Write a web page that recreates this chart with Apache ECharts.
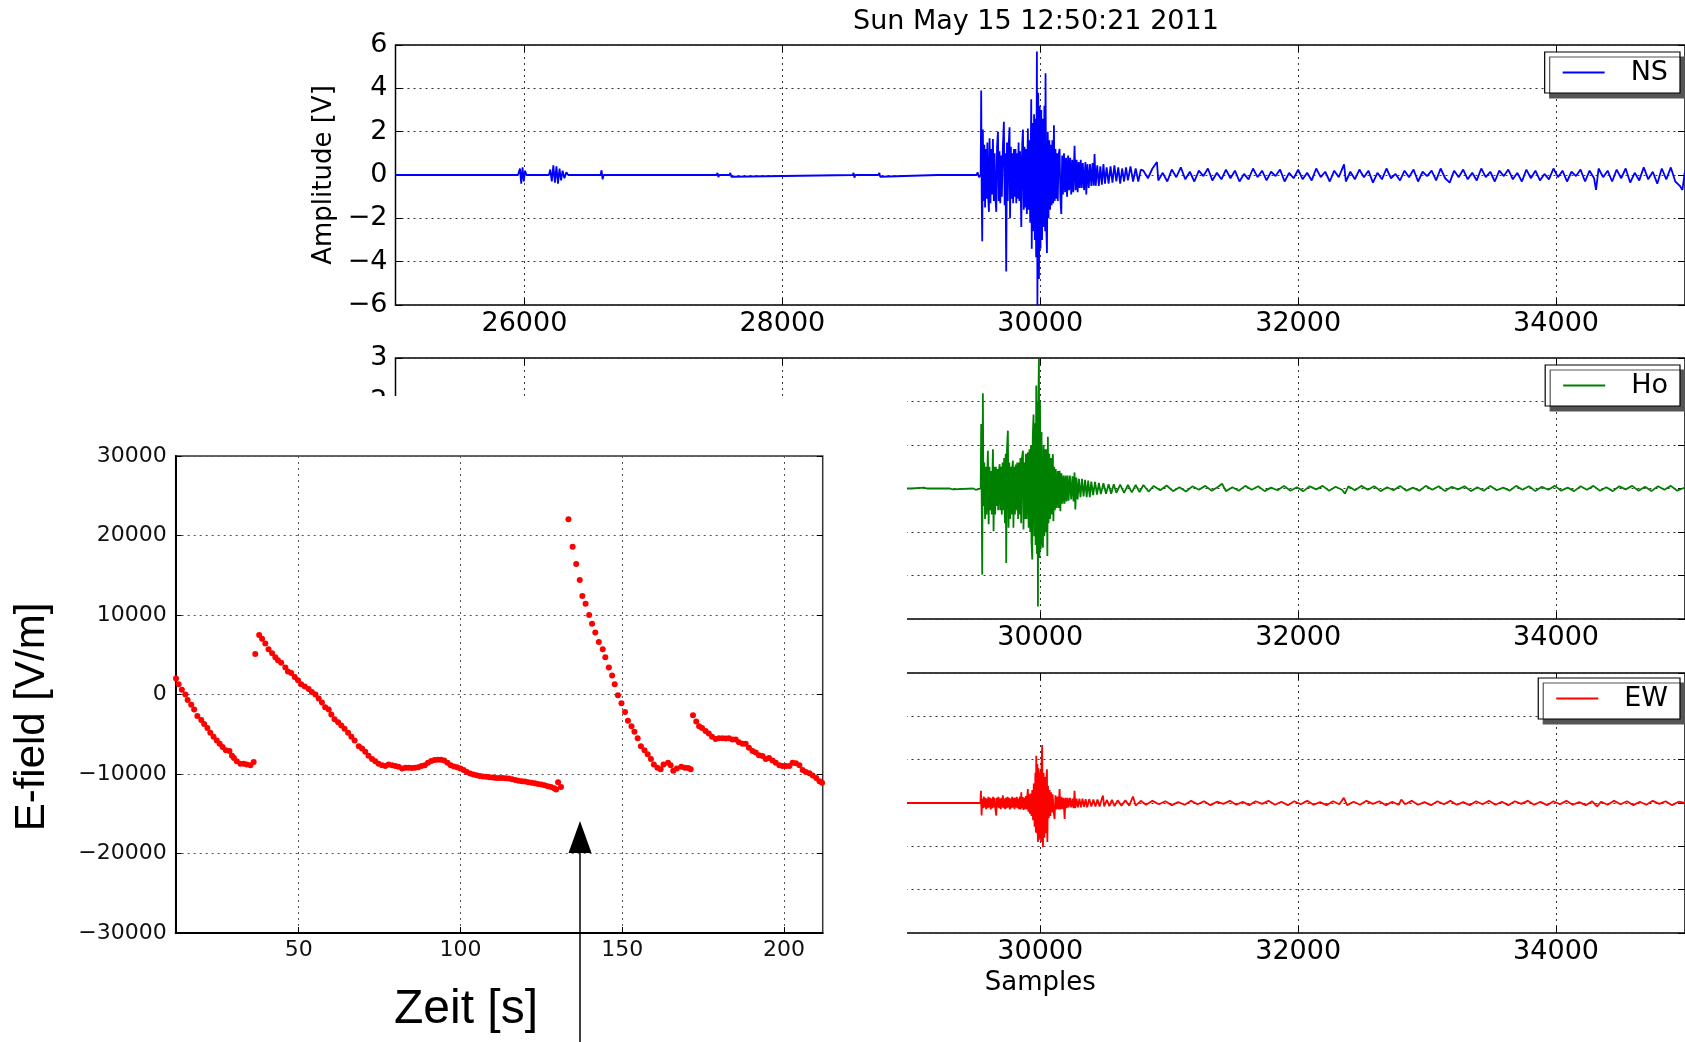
<!DOCTYPE html>
<html><head><meta charset="utf-8">
<script src="https://cdn.jsdelivr.net/npm/echarts@6/dist/echarts.min.js"></script>
<style>html,body{margin:0;padding:0;background:#fff}#c{width:1685px;height:1042px}</style>
</head><body><div id="c"></div>
<script>
// ---------------- data ----------------
const titleText = 'Sun May 15 12:50:21 2011';
const sampleTicks = [26000, 28000, 30000, 32000, 34000];
const timeTicks = [50, 100, 150, 200];

// NS component [sample, amplitude V]
const nsTrace = [
[25000,0],[25950,0],[25965,0.3],[25975,-0.4],[25985,0.35],[25995,-0.3],[26005,0.2],[26015,0],
[26190,0],[26200,0.25],[26212,-0.3],[26224,0.45],[26236,-0.35],[26248,0.4],[26260,-0.4],[26272,0.3],[26284,-0.25],[26296,0.2],[26310,-0.15],[26325,0.12],[26340,0],
[26590,0],[26598,0.22],[26606,-0.2],[26614,0],[27490,0],[27497,0.1],[27504,-0.1],[27511,0],
[27590,0],[27597,0.1],[27604,-0.08],[27611,0],[28545,0],[28552,0.1],[28559,-0.12],[28566,0],
[28745,0],[28752,0.1],[28759,-0.08],[28766,0],[29200,0],[29207,0.06],[29214,-0.05],[29221,0],
[29450,0],[29457,0.07],[29464,-0.06],[29471,0],[29505,0],[29515,0.12],[29525,-0.1],[29538,0],
[29542,3.9],[29546,-1.0],[29550,-3.06],[29555,2.1],[29560,-1.2],[29566,1.4],[29572,-1.5],[29578,1.2],[29584,-1.1],[29590,1.5],[29596,-1.0],[29602,-1.7],[29607,1.7],[29614,-1.3],[29620,1.2],[29626,-0.9],[29633,1.66],[29640,-1.2],[29646,1.0],[29652,-1.0],[29659,-1.7],[29665,1.3],[29672,2.0],[29678,-1.2],[29684,1.1],[29690,-1.3],[29696,0.9],[29702,-1.0],[29710,1.3],[29718,2.46],[29724,-1.4],[29730,1.0],[29736,-4.45],[29742,1.5],[29748,-1.2],[29755,1.4],[29762,2.2],[29766,-2.0],[29772,1.3],[29778,-1.1],[29784,1.0],[29790,-1.3],[29796,1.2],[29802,-1.0],[29808,1.2],[29814,-1.3],[29820,1.0],[29826,-1.1],[29832,1.5],[29838,-1.2],[29844,1.1],[29853,-2.4],[29860,1.4],[29866,2.1],[29872,-1.6],[29878,1.3],[29884,-1.5],[29890,1.2],[29896,-1.8],[29904,2.15],[29910,-1.6],[29916,1.6],[29922,-2.2],[29930,3.5],[29934,-3.4],[29940,2.4],[29946,-2.6],[29952,2.8],[29958,-3.0],[29964,2.6],[29968,-3.8],[29974,5.7],[29978,-6.0],[29984,3.8],[29990,-4.8],[29996,3.2],[30002,-3.4],[30008,3.0],[30014,-3.0],[30020,2.6],[30026,-2.4],[30032,3.2],[30038,-2.6],[30041,4.7],[30046,-2.2],[30052,-3.6],[30058,2.0],[30064,-2.0],[30070,1.6],[30076,-1.6],[30082,1.4],[30088,-1.4],[30094,1.6],[30100,-1.3],[30106,2.3],[30112,-1.2],[30118,1.2],[30124,-1.1],[30130,1.0],[30136,-1.2],[30142,0.9],[30150,1.2],[30156,-1.0],[30163,-1.8],[30170,0.9],[30176,-0.9],[30184,1.0],[30192,-0.8],[30200,0.8],[30208,-1.0],[30216,0.9],[30224,-0.7],[30232,0.8],[30240,-0.9],[30248,0.7],[30256,-0.8],[30266,1.35],[30274,-0.7],[30282,0.7],[30290,-0.8],[30298,0.6],[30306,-0.6],[30314,0.7],[30322,-0.6],[30330,0.55],[30340,-0.7],[30350,0.6],[30357,-0.9],[30366,0.5],[30376,-0.6],[30386,0.5],[30396,-0.5],[30406,0.55],[30414,-0.5],[30421,0.97],[30430,-0.5],[30442,0.45],[30454,-0.5],[30466,0.4],[30478,-0.45],[30490,0.5],[30502,-0.4],[30515,0.35],[30530,-0.4],[30545,0.4],[30560,-0.35],[30575,0.45],[30590,-0.3],[30605,0.35],[30620,-0.4],[30635,0.3],[30650,-0.3],[30665,0.35],[30680,-0.25],[30700,0.4],[30720,-0.3],[30740,0.3],[30760,-0.3],[30780,0.25],
[30800,0.2],[30835,-0.15],[30870,0.3],[30905,0.6],[30915,-0.25],[30950,0.1],[30985,-0.3],[31020,0.25],[31055,-0.1],[31090,0.35],[31125,-0.2],[31160,0.15],[31195,-0.3],[31230,0.2],[31265,-0.05],[31300,0.3],[31335,-0.25],[31370,0.1],[31405,-0.2],[31440,0.25],[31475,-0.15],[31510,0.2],[31545,-0.3],[31580,0.05],[31615,-0.2],[31650,0.3],[31685,-0.1],[31720,0.2],[31755,-0.25],[31790,0.15],[31825,-0.05],[31860,0.25],[31895,-0.3],[31930,0.1],[31965,-0.15],[32000,0.25],[32035,-0.2],[32070,0.1],[32105,-0.25],[32140,0.3],[32175,-0.1],[32210,0.15],[32245,-0.3],[32280,0.2],[32315,-0.1],[32356,0.49],[32370,-0.3],[32405,0.15],[32440,-0.2],[32475,0.25],[32510,-0.1],[32545,0.2],[32580,-0.35],[32615,0.1],[32650,-0.2],[32685,0.3],[32720,-0.15],[32755,0.05],[32790,-0.25],[32825,0.2],[32860,-0.1],[32895,0.25],[32930,-0.3],[32965,0.15],[33000,-0.05],[33035,0.2],[33070,-0.25],[33105,0.3],[33140,-0.15],[33175,-0.35],[33210,0.2],[33245,-0.1],[33280,0.25],[33315,-0.2],[33350,0.1],[33385,-0.25],[33420,0.3],[33455,-0.1],[33490,0.15],[33525,-0.3],[33560,0.2],[33595,-0.05],[33630,0.25],[33665,-0.2],[33700,0.1],[33735,-0.3],[33770,0.25],[33805,-0.15],[33840,0.2],[33875,-0.25],[33910,0.05],[33945,-0.2],[33980,0.3],[34015,-0.1],[34050,0.2],[34085,-0.3],[34120,0.15],[34155,-0.05],[34190,0.25],[34225,-0.3],[34260,0.2],[34295,-0.15],[34310,-0.69],[34330,0.3],[34365,-0.1],[34400,0.2],[34435,-0.3],[34470,0.25],[34505,-0.15],[34540,0.3],[34575,-0.35],[34610,0.1],[34645,-0.25],[34680,0.35],[34715,-0.2],[34750,0.15],[34785,-0.4],[34820,0.3],[34855,-0.2],[34890,0.35],[34925,-0.3],[34960,-0.5],[34980,-0.69],[35000,0.2]
];

// Ho component [sample, amplitude V]
const hoTrace = [
[25000,0],[29000,0],[29100,0.02],[29110,-0.02],[29120,0],[29300,0],[29310,0.03],[29320,-0.02],[29330,0],[29480,0],[29490,0.04],[29500,-0.03],[29510,0],[29538,0],
[29542,1.48],[29546,-0.3],[29550,-1.98],[29555,2.19],[29560,-0.4],[29566,0.6],[29572,-0.7],[29578,0.5],[29584,-0.6],[29590,0.4],[29594,0.87],[29600,-0.82],[29606,0.5],[29612,-0.5],[29618,0.4],[29624,-0.6],[29633,0.9],[29638,-0.98],[29644,0.5],[29650,-0.6],[29656,0.5],[29662,-0.4],[29668,0.45],[29674,-0.5],[29680,0.4],[29685,0.56],[29690,-0.5],[29696,0.5],[29702,-0.6],[29708,0.6],[29714,-0.5],[29720,0.7],[29726,-0.8],[29732,0.8],[29736,-1.71],[29742,0.9],[29749,1.33],[29754,-0.9],[29760,0.6],[29766,-0.7],[29772,0.5],[29778,-0.6],[29784,0.5],[29788,0.64],[29792,-0.9],[29798,0.5],[29804,-0.6],[29810,0.55],[29816,-0.5],[29822,0.6],[29828,-0.7],[29834,0.6],[29840,-0.6],[29846,0.7],[29852,-0.8],[29858,0.7],[29866,0.87],[29870,-0.94],[29876,0.6],[29882,-0.7],[29888,0.8],[29894,-0.7],[29900,0.7],[29904,0.83],[29910,-0.9],[29916,0.9],[29922,-1.0],[29928,1.0],[29932,-1.2],[29938,-1.63],[29942,1.2],[29948,1.7],[29954,-1.1],[29960,1.5],[29964,-1.3],[29969,2.37],[29974,-1.5],[29978,2.0],[29982,-2.71],[29986,2.2],[29990,2.98],[29994,-1.6],[29998,2.0],[30004,-1.4],[30010,1.3],[30016,-1.2],[30021,-1.36],[30026,1.0],[30032,-1.1],[30038,0.9],[30044,-1.0],[30050,0.9],[30055,-1.55],[30059,1.19],[30064,-0.8],[30070,0.8],[30076,-0.7],[30082,0.7],[30088,-0.6],[30094,0.6],[30098,0.79],[30102,-0.75],[30108,0.5],[30114,-0.5],[30120,0.45],[30128,-0.45],[30136,0.4],[30144,-0.45],[30150,0.41],[30156,-0.52],[30164,0.35],[30172,-0.35],[30180,0.3],[30188,-0.35],[30196,0.3],[30204,-0.3],[30212,0.3],[30220,-0.28],[30230,0.3],[30240,-0.25],[30250,0.28],[30258,-0.3],[30266,0.37],[30272,-0.48],[30280,0.25],[30290,-0.25],[30300,0.22],[30312,-0.2],[30324,0.22],[30336,-0.18],[30348,0.2],[30360,-0.2],[30372,0.18],[30384,-0.2],[30396,0.16],[30410,-0.15],[30425,0.15],[30440,-0.14],[30455,0.13],[30470,-0.13],[30490,0.12],[30510,-0.12],[30530,0.1],[30550,-0.12],[30570,0.1],[30590,-0.1],[30620,0.09],[30650,-0.1],[30680,0.08],[30710,-0.09],[30740,0.08],[30770,-0.08],[30800,0.08],[30840,-0.07],
[30880,0.06],[30930,-0.04],[30980,0.07],[31030,-0.06],[31080,0.03],[31130,-0.07],[31180,0.05],[31230,-0.03],[31280,0.06],[31330,-0.05],[31380,0.04],[31410,0.11],[31440,-0.06],[31490,0.03],[31540,-0.05],[31590,0.06],[31640,-0.03],[31690,0.05],[31740,-0.06],[31790,0.02],[31840,-0.04],[31890,0.06],[31940,-0.05],[31990,0.03],[32040,-0.06],[32090,0.05],[32140,-0.02],[32190,0.06],[32240,-0.05],[32290,0.04],[32340,-0.03],[32363,-0.12],[32390,0.05],[32440,-0.04],[32490,0.06],[32540,-0.03],[32590,0.05],[32640,-0.06],[32690,0.03],[32740,-0.04],[32790,0.06],[32840,-0.05],[32890,0.02],[32940,-0.05],[32990,0.06],[33040,-0.03],[33090,0.05],[33140,-0.06],[33190,0.04],[33240,-0.02],[33290,0.05],[33340,-0.06],[33390,0.03],[33440,-0.05],[33490,0.06],[33540,-0.04],[33590,0.02],[33640,-0.05],[33690,0.06],[33740,-0.03],[33790,0.05],[33840,-0.06],[33890,0.04],[33940,-0.03],[33990,0.06],[34040,-0.05],[34090,0.02],[34140,-0.06],[34190,0.05],[34240,-0.03],[34290,0.06],[34340,-0.05],[34390,0.03],[34440,-0.06],[34490,0.05],[34540,-0.02],[34590,0.06],[34640,-0.05],[34690,0.04],[34740,-0.06],[34790,0.05],[34840,-0.03],[34890,0.06],[34940,-0.05],[35000,0.02]
];

// EW component [sample, amplitude V]
const ewTrace = [
[25000,0],[29536,0],[29540,0.28],[29545,-0.29],[29550,0.1],[29556,-0.12],[29562,0.15],[29568,-0.1],[29574,0.12],[29580,-0.14],[29586,0.1],[29592,-0.12],[29598,0.14],[29604,-0.1],[29610,0.12],[29616,-0.15],[29622,0.1],[29628,-0.12],[29634,0.14],[29640,-0.1],[29646,0.12],[29652,-0.14],[29659,-0.29],[29664,0.12],[29670,-0.1],[29676,0.14],[29682,-0.12],[29688,0.1],[29694,-0.14],[29700,0.12],[29706,-0.1],[29710,0.18],[29716,-0.12],[29722,0.1],[29728,-0.14],[29734,0.12],[29740,-0.12],[29746,0.14],[29752,-0.1],[29758,0.12],[29764,-0.15],[29770,0.1],[29776,-0.12],[29782,0.14],[29788,-0.1],[29794,0.12],[29800,-0.14],[29806,0.12],[29812,-0.1],[29818,0.14],[29824,-0.12],[29830,0.1],[29836,-0.14],[29842,0.15],[29848,-0.15],[29853,0.25],[29858,-0.12],[29864,0.14],[29870,-0.16],[29876,0.12],[29882,-0.14],[29888,0.16],[29894,-0.15],[29900,0.18],[29904,0.32],[29908,-0.2],[29914,0.2],[29920,-0.25],[29926,0.22],[29932,-0.3],[29938,0.3],[29944,-0.4],[29950,0.45],[29956,-0.55],[29962,0.7],[29966,-0.68],[29969,1.09],[29974,-0.7],[29978,0.9],[29982,-0.9],[29986,0.8],[29990,-0.85],[29994,0.7],[29998,-0.8],[30002,0.75],[30006,-0.9],[30010,0.9],[30015,1.34],[30018,-0.8],[30021,-1.02],[30026,0.7],[30032,-0.8],[30038,0.6],[30044,-0.7],[30048,0.6],[30052,0.78],[30055,-0.9],[30060,0.4],[30066,-0.35],[30072,0.3],[30078,-0.3],[30084,0.25],[30090,-0.22],[30096,0.2],[30104,-0.2],[30111,-0.37],[30118,0.18],[30126,-0.15],[30134,0.15],[30142,-0.15],[30150,0.32],[30156,-0.15],[30164,0.14],[30172,-0.14],[30180,0.12],[30189,-0.37],[30196,0.12],[30204,-0.12],[30212,0.12],[30220,-0.1],[30230,0.12],[30240,-0.1],[30250,0.1],[30258,-0.12],[30266,0.28],[30272,-0.12],[30282,0.1],[30292,-0.1],[30304,0.1],[30316,-0.1],[30328,0.1],[30340,-0.09],[30352,0.09],[30364,-0.1],[30380,0.09],[30396,-0.08],[30412,0.08],[30428,-0.08],[30444,0.08],[30460,-0.08],[30476,0.08],[30486,0.17],[30496,-0.08],[30516,0.07],[30536,-0.07],[30556,0.07],[30576,-0.07],[30600,0.06],[30630,-0.06],[30660,0.06],[30690,-0.06],[30719,0.15],[30740,-0.06],[30780,0.05],
[30820,-0.04],[30870,0.05],[30920,-0.03],[30970,0.04],[31020,-0.05],[31070,0.02],[31120,-0.04],[31170,0.05],[31220,-0.03],[31270,0.04],[31320,-0.05],[31370,0.03],[31420,-0.02],[31470,0.05],[31520,-0.04],[31570,0.03],[31620,-0.05],[31670,0.04],[31720,-0.02],[31770,0.05],[31820,-0.04],[31870,0.03],[31920,-0.05],[31970,0.04],[32020,-0.03],[32070,0.05],[32120,-0.04],[32170,0.02],[32220,-0.05],[32270,0.04],[32320,-0.03],[32354,0.12],[32380,-0.05],[32430,0.03],[32480,-0.04],[32530,0.05],[32580,-0.02],[32630,0.04],[32680,-0.05],[32730,0.03],[32780,-0.04],[32800,0.08],[32830,-0.03],[32880,0.05],[32930,-0.04],[32980,0.02],[33030,-0.05],[33080,0.04],[33130,-0.03],[33180,0.05],[33230,-0.04],[33280,0.02],[33330,-0.05],[33380,0.04],[33430,-0.03],[33480,0.05],[33530,-0.04],[33580,0.03],[33630,-0.05],[33680,0.04],[33730,-0.02],[33780,0.05],[33830,-0.04],[33880,0.03],[33930,-0.05],[33980,0.04],[34030,-0.03],[34080,0.05],[34130,-0.04],[34180,0.02],[34230,-0.05],[34280,0.04],[34318,-0.08],[34350,0.03],[34400,-0.04],[34450,0.05],[34500,-0.03],[34550,0.04],[34600,-0.05],[34650,0.03],[34700,-0.04],[34750,0.05],[34800,-0.02],[34850,0.04],[34900,-0.05],[34950,0.03],[35000,0]
];

// Inset: E-field vs time
const efTime = [
12.1,12.9,13.9,15.0,15.7,16.8,17.7,18.7,19.9,20.8,21.8,22.7,23.7,24.7,25.6,26.5,27.5,28.6,29.4,30.0,30.9,32.0,33.0,34.0,35.1,36.1,
36.6,
37.8,38.7,39.7,40.7,41.8,42.8,43.6,44.6,45.9,46.7,47.7,48.8,49.8,50.8,51.9,53.1,54.1,55.2,56.2,57.2,58.2,59.3,60.1,61.1,62.2,63.2,64.2,65.3,66.3,67.3,68.6,69.6,70.6,71.6,72.7,73.7,74.7,75.8,76.8,77.8,78.9,79.9,80.9,82.0,
83,84,85,86,87,88,89,90,91,92,93,94,95,96,97,98,99,100,101,102,103,104,105,106,107,108,109,110,111,112,113,114,115,116,117,118,119,120,121,122,123,124,125,126,127,128,129,129.6,130.2,131.1,
133.4,134.7,135.8,136.9,137.7,138.7,139.8,140.7,141.7,142.8,144.0,144.8,145.9,146.9,147.7,148.7,149.8,150.9,151.8,152.9,153.8,154.8,155.8,156.9,157.9,158.9,159.8,160.9,161.9,162.8,164.2,165.0,165.8,166.9,168.3,169.4,170.4,171.2,
171.9,172.9,173.8,174.7,175.8,176.8,177.8,178.9,179.9,181.0,182.0,183.0,184.1,185.1,186.1,187.2,188.2,189.2,190.3,191.3,192.3,193.4,194.4,195.4,196.5,197.5,198.6,199.6,200.6,201.7,202.7,203.7,204.8,205.8,206.8,207.9,208.9,210.0,211.0,211.8
];
const efField = [
2000,1300,600,0,-700,-1300,-1900,-2700,-3200,-3700,-4200,-4800,-5300,-5800,-6200,-6600,-7000,-7100,-7700,-8000,-8400,-8700,-8700,-8800,-8900,-8500,
5100,
7500,7000,6400,5700,5200,4700,4300,4000,3400,2900,2700,2200,1800,1300,1000,700,300,0,-500,-1000,-1600,-1900,-2500,-3100,-3500,-3900,-4300,-4800,-5300,-5800,-6500,-6800,-7200,-7700,-8100,-8400,-8700,-8900,-9000,-8800,-8900,-9000,-9100,-9300,
-9200,-9200,-9250,-9200,-9150,-9000,-8900,-8600,-8350,-8250,-8200,-8200,-8300,-8600,-8900,-9050,-9150,-9300,-9500,-9750,-9950,-10050,-10150,-10250,-10300,-10350,-10400,-10450,-10500,-10500,-10500,-10520,-10560,-10650,-10750,-10850,-10900,-10950,-11050,-11100,-11150,-11250,-11330,-11400,-11550,-11650,-11800,-11950,-11050,-11650,
22050,18600,16400,14400,12400,11400,10000,8900,7800,6600,5700,4700,3400,2400,1300,-100,-1100,-2200,-3300,-4000,-4700,-5500,-6500,-7000,-7500,-8100,-8800,-9200,-9400,-8800,-8600,-8900,-9600,-9300,-9100,-9200,-9250,-9400,
-2600,-3400,-4000,-4200,-4600,-4900,-5300,-5600,-5500,-5500,-5550,-5500,-5650,-5650,-6000,-6200,-6200,-6700,-7100,-7300,-7650,-7750,-8100,-8000,-8300,-8600,-8900,-9000,-9000,-9000,-8600,-8650,-8900,-9500,-9750,-9900,-10200,-10500,-10900,-11100
];

// ---------------- chart ----------------
const FONT = 'DejaVu Sans';
const minus = v => String(v).replace('-', '\u2212');
const plain = v => String(v);
const dotted = {show: true, lineStyle: {color: '#333', width: 1, type: [2, 4]}};
const L = 395.5, W = 1289.5;
const panels = [{top: 45, h: 260, min: -6, max: 6, step: 2}, {top: 358, h: 261, min: -3, max: 3, step: 1}, {top: 673, h: 260, min: -3, max: 3, step: 1}];

const grid = panels.map(p => ({left: L, top: p.top, width: W, height: p.h, show: true, borderColor: '#000', borderWidth: 1.5, backgroundColor: 'transparent'}));
grid.push({left: 175.7, top: 456, width: 647, height: 477, show: true, borderColor: '#333', borderWidth: 1.5, backgroundColor: 'transparent', z: 20});

const xAxis = [], yAxis = [];
panels.forEach((p, i) => {
  xAxis.push({type: 'value', gridIndex: i, min: 25000, max: 35000, position: 'bottom',
    axisLine: {show: false, onZero: false},
    axisTick: {show: true, inside: true, length: 7, customValues: sampleTicks, lineStyle: {color: '#000'}},
    axisLabel: {show: true, customValues: sampleTicks, formatter: plain, fontFamily: FONT, fontSize: 27, color: '#000', margin: 5},
    splitLine: dotted,
    name: i === 2 ? 'Samples' : '', nameLocation: 'middle', nameGap: 37,
    nameTextStyle: {fontFamily: FONT, fontSize: 26, color: '#000'}});
  yAxis.push({type: 'value', gridIndex: i, min: p.min, max: p.max, interval: p.step,
    axisLine: {show: false, onZero: false},
    axisTick: {show: true, inside: true, length: 7, lineStyle: {color: '#000'}},
    axisLabel: {formatter: minus, fontFamily: FONT, fontSize: 27, color: '#000', margin: 8},
    splitLine: dotted,
    name: i === 0 ? 'Amplitude [V]' : '', nameLocation: 'middle', nameGap: 53,
    nameTextStyle: {fontFamily: FONT, fontSize: 26, color: '#000'}});
});
// inset axes
xAxis.push({type: 'value', gridIndex: 3, min: 12, max: 212, z: 20,
  axisLine: {show: true, onZero: false, lineStyle: {color: '#000', width: 2}},
  axisTick: {show: true, inside: true, length: 6, customValues: timeTicks, lineStyle: {color: '#000'}},
  axisLabel: {customValues: timeTicks, formatter: plain, fontFamily: FONT, fontSize: 22, color: '#111', margin: 6},
  splitLine: {show: true, lineStyle: {color: '#555', width: 1, type: [2, 4]}}});
yAxis.push({type: 'value', gridIndex: 3, min: -30000, max: 30000, interval: 10000, z: 20,
  axisLine: {show: true, onZero: false, lineStyle: {color: '#000', width: 2}},
  axisTick: {show: true, inside: true, length: 6, lineStyle: {color: '#000'}},
  axisLabel: {formatter: minus, fontFamily: FONT, fontSize: 22, color: '#111', margin: 9},
  splitLine: {show: true, lineStyle: {color: '#555', width: 1, type: [2, 4]}}});
// mirrored tick marks on top / right
[0, 1, 2].forEach(i => {
  xAxis.push({type: 'value', gridIndex: i, min: 25000, max: 35000, position: 'top', axisLine: {show: false, onZero: false},
    axisTick: {show: true, inside: true, length: 7, customValues: sampleTicks, lineStyle: {color: '#000'}},
    axisLabel: {show: false, customValues: sampleTicks}, splitLine: {show: false}});
  yAxis.push({type: 'value', gridIndex: i, min: panels[i].min, max: panels[i].max, interval: panels[i].step, position: 'right',
    axisLine: {show: false, onZero: false}, axisTick: {show: true, inside: true, length: 7, lineStyle: {color: '#000'}},
    axisLabel: {show: false}, splitLine: {show: false}});
});
yAxis.push({type: 'value', gridIndex: 3, min: -30000, max: 30000, interval: 10000, position: 'right', z: 20,
  axisLine: {show: false, onZero: false}, axisTick: {show: true, inside: true, length: 6, lineStyle: {color: '#000'}},
  axisLabel: {show: false}, splitLine: {show: false}});

const traceSeries = (name, idx, data, color) => ({type: 'line', name, xAxisIndex: idx, yAxisIndex: idx, data,
  showSymbol: false, symbol: 'none', sampling: null, lineStyle: {color, width: 1.8}, itemStyle: {color}, z: 2, animation: false});

const legendBox = (name, top) => ({data: [name], right: 5, top, padding: [7, 12, 7, 18], itemWidth: 42, itemHeight: 2, icon: 'rect',
  backgroundColor: '#fff', borderColor: '#000', borderWidth: 1.2, borderRadius: 0,
  shadowColor: '#555', shadowOffsetX: 5, shadowOffsetY: 5, shadowBlur: 0, selectedMode: false,
  textStyle: {fontFamily: FONT, fontSize: 27, color: '#000', padding: [0, 0, 0, 21]}});

const option = {
  backgroundColor: '#fff',
  animation: false,
  title: {text: titleText, left: 853, top: 8, padding: 0, textStyle: {fontFamily: FONT, fontSize: 27, fontWeight: 'normal', color: '#000'}},
  legend: [legendBox('NS', 52), legendBox('Ho', 365), legendBox('EW', 678)],
  grid, xAxis, yAxis,
  series: [
    traceSeries('NS', 0, nsTrace, '#0000ff'),
    traceSeries('Ho', 1, hoTrace, '#008000'),
    traceSeries('EW', 2, ewTrace, '#ff0000'),
    {type: 'scatter', name: 'E-field', xAxisIndex: 3, yAxisIndex: 3, z: 21,
      data: efTime.map((t, i) => [t, efField[i]]), symbol: 'circle', symbolSize: 6,
      itemStyle: {color: '#ff0000', opacity: 1}, animation: false}
  ],
  graphic: {elements: [
    {type: 'rect', z: 10, silent: true, shape: {x: 0, y: 396, width: 907, height: 646}, style: {fill: '#fff'}},
    {type: 'text', z: 30, x: 32, y: 717, rotation: Math.PI / 2,
      style: {text: 'E-field [V/m]', fontSize: 42, fontFamily: 'Liberation Sans', fill: '#000', align: 'center', verticalAlign: 'middle', textAlign: 'center', textVerticalAlign: 'middle'}},
    {type: 'text', z: 30, x: 466, y: 1010,
      style: {text: 'Zeit [s]', fontSize: 48, fontFamily: 'Liberation Sans', fill: '#000', align: 'center', verticalAlign: 'middle', textAlign: 'center', textVerticalAlign: 'middle'}},
    {type: 'line', z: 30, shape: {x1: 580, y1: 850, x2: 580, y2: 1042}, style: {stroke: '#000', lineWidth: 1.5}},
    {type: 'polygon', z: 30, shape: {points: [[580, 821], [568.5, 853], [591.5, 853]]}, style: {fill: '#000'}}
  ]}
};

const chart = echarts.init(document.getElementById('c'), null, {renderer: 'canvas'});
chart.setOption(option);
</script></body></html>
